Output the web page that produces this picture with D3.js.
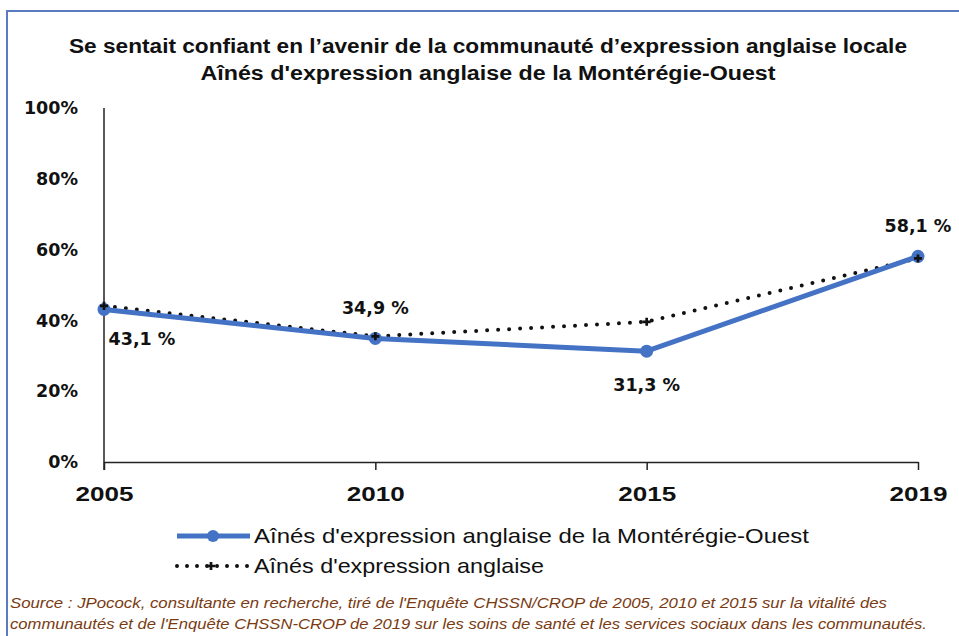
<!DOCTYPE html>
<html>
<head>
<meta charset="utf-8">
<script src="https://cdn.jsdelivr.net/npm/d3@7"></script>
<style>
  html, body { margin: 0; padding: 0; background: #fff; }
  svg { display: block; }
</style>
</head>
<body>
<svg id="chart" width="959" height="636"></svg>
<script>
// Survey years and shares who felt confident about the local English-speaking community
const years = ["2005", "2010", "2015", "2019"];
const monteregieOuest = [0.431, 0.349, 0.313, 0.581];
const quebecSeniors = [0.441, 0.355, 0.396, 0.575];
const valueLabels = ["43,1 %", "34,9 %", "31,3 %", "58,1 %"];
const yTicks = [0, 0.2, 0.4, 0.6, 0.8, 1.0];
const seriesNames = ["Aînés d'expression anglaise de la Montérégie-Ouest", "Aînés d'expression anglaise"];
const titleLines = [
  "Se sentait confiant  en l’avenir de la communauté d’expression anglaise  locale",
  "Aînés d'expression anglaise  de la Montérégie-Ouest"
];
const sourceLines = [
  "Source : JPocock, consultante en recherche, tiré de l'Enquête CHSSN/CROP de 2005, 2010 et 2015 sur la vitalité des",
  "communautés et de l'Enquête CHSSN-CROP de 2019 sur les soins de santé et les services sociaux dans les communautés."
];

const svg = d3.select("#chart");
const blue = "#4472c4";
const narrow = "'Liberation Sans Narrow', 'Arial Narrow', 'Liberation Sans', sans-serif";
const wide = "'DejaVu Sans', Verdana, sans-serif";

// frame around the chart area
svg.append("path")
  .attr("d", "M7,640 L7,11 L965,11")
  .attr("fill", "none")
  .attr("stroke", "#5a7bbd")
  .attr("stroke-width", 2);

// title
const titleWidths = [838, 575];
svg.selectAll("text.title").data(titleLines).join("text")
  .attr("class", "title")
  .attr("x", 488)
  .attr("y", (d, i) => 53 + i * 27)
  .attr("text-anchor", "middle")
  .attr("font-family", narrow)
  .attr("font-weight", "bold")
  .attr("font-size", 20)
  .attr("fill", "#111")
  .attr("textLength", (d, i) => titleWidths[i])
  .attr("lengthAdjust", "spacingAndGlyphs")
  .text(d => d);

// scales
const x = d3.scalePoint().domain(years).range([104, 918]);
const y = d3.scaleLinear().domain([0, 1]).range([462, 108]);

// y axis: labels only, plus the vertical rule
const yAxis = svg.append("g")
  .attr("transform", "translate(104,0)")
  .call(d3.axisLeft(y).tickValues(yTicks).tickSize(0).tickPadding(26).tickFormat(d3.format(".0%")));
yAxis.select(".domain").remove();
yAxis.selectAll("text")
  .attr("font-family", wide)
  .attr("font-weight", "bold")
  .attr("font-size", 17.5)
  .attr("fill", "#111");
svg.append("line")
  .attr("x1", 104).attr("x2", 104)
  .attr("y1", y(1)).attr("y2", y(0) + 8)
  .attr("stroke", "#222").attr("stroke-width", 1.5);

// x axis with outward ticks
const xAxis = svg.append("g")
  .attr("transform", `translate(0,${y(0)})`)
  .call(d3.axisBottom(x).tickSize(8).tickPadding(16).tickSizeOuter(0));
xAxis.select(".domain").attr("stroke", "#222").attr("stroke-width", 1.5);
xAxis.selectAll(".tick line").attr("stroke", "#222").attr("stroke-width", 1.5);
xAxis.selectAll("text")
  .attr("font-family", narrow)
  .attr("font-weight", "bold")
  .attr("font-size", 21)
  .attr("fill", "#111")
  .attr("textLength", 58)
  .attr("lengthAdjust", "spacingAndGlyphs");

const line = d3.line().x((d, i) => x(years[i])).y(d => y(d));

// provincial seniors: dotted line
svg.append("path")
  .datum(quebecSeniors)
  .attr("d", line)
  .attr("fill", "none")
  .attr("stroke", "#111")
  .attr("stroke-width", 4)
  .attr("stroke-linecap", "round")
  .attr("stroke-dasharray", "0 11");

// Montérégie-Ouest seniors: thick blue line with round markers
svg.append("path")
  .datum(monteregieOuest)
  .attr("d", line)
  .attr("fill", "none")
  .attr("stroke", blue)
  .attr("stroke-width", 5)
  .attr("stroke-linejoin", "round");
svg.selectAll("circle.mo").data(monteregieOuest).join("circle")
  .attr("class", "mo")
  .attr("cx", (d, i) => x(years[i]))
  .attr("cy", d => y(d))
  .attr("r", 6.5)
  .attr("fill", blue);

// small markers on the dotted series
svg.selectAll("path.qs").data(quebecSeniors).join("path")
  .attr("class", "qs")
  .attr("transform", (d, i) => `translate(${x(years[i])},${y(d)})`)
  .attr("d", d3.symbol(d3.symbolCross, 36))
  .attr("fill", "#111");

// value labels for the blue series
const labelOffset = [
  { dx: 38, dy: 36 },
  { dx: 0, dy: -24 },
  { dx: 0, dy: 40 },
  { dx: 0, dy: -24 }
];
svg.selectAll("text.val").data(monteregieOuest).join("text")
  .attr("class", "val")
  .attr("x", (d, i) => x(years[i]) + labelOffset[i].dx)
  .attr("y", (d, i) => y(d) + labelOffset[i].dy)
  .attr("text-anchor", "middle")
  .attr("font-family", wide)
  .attr("font-weight", "bold")
  .attr("font-size", 17.5)
  .attr("fill", "#111")
  .text((d, i) => valueLabels[i]);

// legend
const legend = svg.append("g");
const legendRows = [
  { y: 536, name: seriesNames[0], w: 555 },
  { y: 566, name: seriesNames[1], w: 290 }
];
legend.append("line")
  .attr("x1", 177).attr("x2", 250).attr("y1", 536).attr("y2", 536)
  .attr("stroke", blue).attr("stroke-width", 5);
legend.append("circle").attr("cx", 213).attr("cy", 536).attr("r", 6).attr("fill", blue);
legend.append("line")
  .attr("x1", 177).attr("x2", 250).attr("y1", 566).attr("y2", 566)
  .attr("stroke", "#111").attr("stroke-width", 4)
  .attr("stroke-linecap", "round").attr("stroke-dasharray", "0 10");
legend.append("path")
  .attr("transform", "translate(211,566)")
  .attr("d", d3.symbol(d3.symbolCross, 36))
  .attr("fill", "#111");
legend.selectAll("text").data(legendRows).join("text")
  .attr("x", 254)
  .attr("y", d => d.y + 7)
  .attr("font-family", narrow)
  .attr("font-size", 21)
  .attr("fill", "#111")
  .attr("textLength", d => d.w)
  .attr("lengthAdjust", "spacingAndGlyphs")
  .text(d => d.name);

// source note
const sourceWidths = [877, 917];
svg.selectAll("text.src").data(sourceLines).join("text")
  .attr("class", "src")
  .attr("x", 10)
  .attr("y", (d, i) => 608 + i * 21)
  .attr("font-family", narrow)
  .attr("font-style", "italic")
  .attr("font-size", 14)
  .attr("fill", "#7a3b12")
  .attr("textLength", (d, i) => sourceWidths[i])
  .attr("lengthAdjust", "spacingAndGlyphs")
  .text(d => d);
</script>
</body>
</html>
